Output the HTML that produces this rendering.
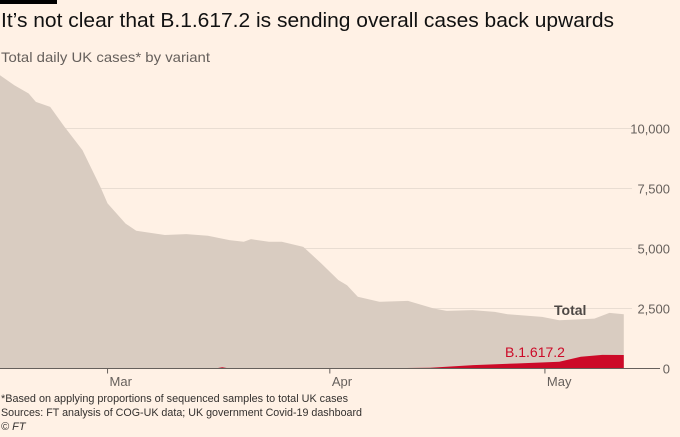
<!DOCTYPE html>
<html><head><meta charset="utf-8"><style>
body{margin:0;background:#fff1e5;width:680px;height:437px;overflow:hidden;font-family:"Liberation Sans",sans-serif}
svg{display:block}
</style></head><body>
<svg width="680" height="437" viewBox="0 0 680 437">
<rect x="0" y="0" width="57" height="4" fill="#000"/>
<text x="1" y="27" font-size="20" fill="#111" textLength="613" lengthAdjust="spacingAndGlyphs">It’s not clear that B.1.617.2 is sending overall cases back upwards</text>
<text x="1" y="62" font-size="14" fill="#66605c" textLength="209" lengthAdjust="spacingAndGlyphs">Total daily UK cases* by variant</text>
<g id="grid"></g>
<g id="areas"></g>
<g id="axes"></g>
<text x="1" y="402" font-size="11" fill="#33302e" textLength="347" lengthAdjust="spacingAndGlyphs">*Based on applying proportions of sequenced samples to total UK cases</text>
<text x="1" y="416" font-size="11" fill="#33302e" textLength="361" lengthAdjust="spacingAndGlyphs">Sources: FT analysis of COG-UK data; UK government Covid-19 dashboard</text>
<text x="1" y="430" font-size="11" font-style="italic" fill="#33302e">© FT</text>
</svg>
<script>
const days=[0,2,4,5,7,9,11.5,14,15,17.5,19,23,26,29,32,34,35,37.5,39.3,42.3,44.8,47.2,48.4,49.9,52.9,56.9,60.5,62.3,65.9,69,70.8,75.6,78,82.9,85,87];
const total=[12220,11800,11460,11110,10900,10070,9100,7570,6880,6040,5740,5560,5600,5530,5350,5280,5390,5280,5280,5070,4380,3680,3470,2990,2780,2820,2500,2400,2430,2360,2260,2150,2010,2080,2320,2260];
const variantDays=[0,30,31,32,33,45,55,60,66,72,78,81,84,87];
const variant=[0,0,50,0,0,5,15,30,140,210,280,490,570,560];
const yTicks=[0,2500,5000,7500,10000];
const yTickLabels=["0","2,500","5,000","7,500","10,000"];
const xTickDays=[15,46,76];
const xTickLabels=["Mar","Apr","May"];
const NS="http://www.w3.org/2000/svg";
const x=d=>d*7.17;
const y=v=>368.5-v*60/2500;
function mk(t,a,p){const e=document.createElementNS(NS,t);for(const k in a)e.setAttribute(k,a[k]);p.appendChild(e);return e;}
const grid=document.getElementById('grid'),areas=document.getElementById('areas'),axes=document.getElementById('axes');
yTicks.forEach((v,i)=>{
 if(v>0){const l=mk('line',{x1:0,x2:632,y1:y(v),y2:y(v),stroke:'#e9ddd2','stroke-width':1},grid);
 
 }
 const t=mk('text',{x:670,y:y(v)+5,'text-anchor':'end','font-size':13,fill:'#66605c'},axes);
 t.textContent=yTickLabels[i];
 
 
});
function area(ds,vs){let d='M'+x(ds[0])+','+y(0);ds.forEach((dd,i)=>d+='L'+x(dd)+','+y(vs[i]));d+='L'+x(ds[ds.length-1])+','+y(0)+'Z';return d;}
const ta=mk('path',{d:area(days,total),fill:'#d9ccc1'},areas);


const va=mk('path',{d:area(variantDays,variant),fill:'#cc0a28'},areas);


const base=mk('line',{x1:0,x2:660,y1:y(0),y2:y(0),stroke:'#66605c','stroke-width':1},axes);


xTickDays.forEach((d,i)=>{
 const tk=mk('line',{x1:x(d),x2:x(d),y1:y(0),y2:y(0)+5,stroke:'#66605c'},axes);
 
 
 const t=mk('text',{x:x(d)+2,y:386,'font-size':13,fill:'#66605c'},axes);
 t.textContent=xTickLabels[i];
 
 
});
const tl=mk('text',{x:554,y:315,'font-size':14,'font-weight':'bold',fill:'#4d4845'},axes);
tl.textContent='Total';


const vl=mk('text',{x:505,y:357,'font-size':14,fill:'#cc0a28'},axes);
vl.textContent='B.1.617.2';


</script>
</body></html>
